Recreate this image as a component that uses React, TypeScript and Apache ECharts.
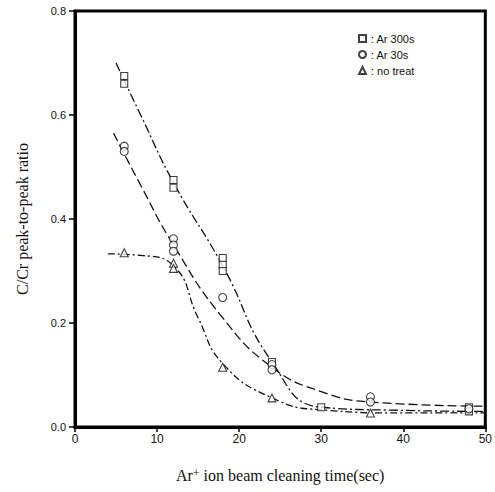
import React, { useEffect, useRef } from "react";
import * as echarts from "echarts";

// Measured points: [time (s), C/Cr ratio]
const ar300Points: number[][] = [
  [6, 0.675], [6, 0.66], [12, 0.475], [12, 0.46], [18, 0.325], [18, 0.312], [18, 0.30],
  [24, 0.125], [30, 0.038], [48, 0.038], [48, 0.03],
];
const ar30Points: number[][] = [
  [6, 0.54], [6, 0.53], [12, 0.362], [12, 0.35], [12, 0.338], [18, 0.249],
  [24, 0.12], [24, 0.11], [36, 0.058], [36, 0.048], [48, 0.035],
];
const noTreatPoints: number[][] = [
  [6, 0.335], [12, 0.315], [12, 0.305], [18, 0.115], [24, 0.056], [36, 0.027],
];

// Hand-drawn trend curves
const ar300Curve: number[][] = [
  [5, 0.70], [8, 0.60], [12, 0.47], [18, 0.31], [24, 0.125], [30, 0.038], [40, 0.032], [50, 0.03],
];
const ar30Curve: number[][] = [
  [4.7, 0.565], [8, 0.465], [12, 0.35], [18, 0.21], [24, 0.115], [30, 0.068],
  [36, 0.048], [50, 0.04],
];
const noTreatCurve: number[][] = [
  [4, 0.333], [8, 0.33], [12, 0.31], [15, 0.21], [18, 0.122], [24, 0.056], [30, 0.033],
  [40, 0.027], [50, 0.027],
];

const seriesNames = ["Ar 300s", "Ar 30s", "no treat"];
const xTicks = [0, 10, 20, 30, 40, 50];
const yTicks = [0, 0.2, 0.4, 0.6, 0.8];

export default function App() {
  const ref = useRef<HTMLDivElement>(null);
  useEffect(() => {
    if (!ref.current) return;
    const chart = echarts.init(ref.current, null, { renderer: "svg" });
    const tickFont = "Liberation Sans";
    const serif = "Liberation Serif";
    const curveStyle = (type: any) => ({ color: "#111", width: 1.3, type });
    const scatter = (name: string, symbol: string, size: number, data: number[][]) => ({
      name,
      type: "scatter",
      symbol,
      symbolSize: size,
      data,
      z: 5,
      itemStyle: { color: "#fff", borderColor: "#111", borderWidth: 1.1 },
    });
    const curve = (name: string, data: number[][], type: any) => ({
      name,
      type: "line",
      data,
      smooth: 0.5,
      showSymbol: false,
      symbol: "none",
      lineStyle: curveStyle(type),
      z: 3,
    });
    chart.setOption({
      animation: false,
      grid: { left: 75, right: 9, top: 11, bottom: 65, show: true, borderColor: "#000", borderWidth: 3 },
      legend: {
        data: seriesNames,
        orient: "vertical",
        left: 353,
        top: 28,
        itemWidth: 7,
        itemHeight: 7,
        itemGap: 5,
        formatter: (n: string) => ": " + n,
        textStyle: { fontFamily: tickFont, fontSize: 11, color: "#111" },
      },
      xAxis: {
        type: "value",
        min: xTicks[0],
        max: xTicks[xTicks.length - 1],
        interval: 10,
        axisLine: { show: true, onZero: false, lineStyle: { color: "#000", width: 3 } },
        axisTick: { show: true, inside: false, length: 5, lineStyle: { color: "#000", width: 1.5 } },
        splitLine: { show: false },
        axisLabel: { fontFamily: tickFont, fontSize: 12, color: "#111", margin: 6 },
        name: "{a|Ar}{s|+}{a| ion beam cleaning time(sec)}",
        nameLocation: "middle",
        nameGap: 40,
        nameTextStyle: {
          rich: {
            a: { fontFamily: serif, fontSize: 16, color: "#111" },
            s: { fontFamily: serif, fontSize: 12, color: "#111", verticalAlign: "top" },
          },
        },
      },
      yAxis: {
        type: "value",
        min: yTicks[0],
        max: yTicks[yTicks.length - 1],
        interval: 0.2,
        axisLine: { show: true, onZero: false, lineStyle: { color: "#000", width: 3 } },
        axisTick: { show: true, inside: false, length: 6, lineStyle: { color: "#000", width: 1.5 } },
        splitLine: { show: false },
        axisLabel: {
          fontFamily: tickFont,
          fontSize: 11,
          color: "#111",
          margin: 9,
          formatter: (v: number) => v.toFixed(1),
        },
        name: "C/Cr peak-to-peak ratio",
        nameLocation: "middle",
        nameGap: 45,
        nameTextStyle: { fontFamily: serif, fontSize: 16, color: "#111" },
      },
      series: [
        curve("Ar 300s curve", ar300Curve, [9, 3, 2, 3]),
        curve("Ar 30s curve", ar30Curve, [9, 4]),
        curve("no treat curve", noTreatCurve, [7, 3, 2, 3]),
        scatter(seriesNames[0], "rect", 7, ar300Points),
        scatter(seriesNames[1], "circle", 8, ar30Points),
        scatter(seriesNames[2], "triangle", 8, noTreatPoints),
      ],
    });
    return () => chart.dispose();
  }, []);
  return <div ref={ref} style={{ width: 495, height: 492, position: "absolute", left: 0, top: 0 }} />;
}
